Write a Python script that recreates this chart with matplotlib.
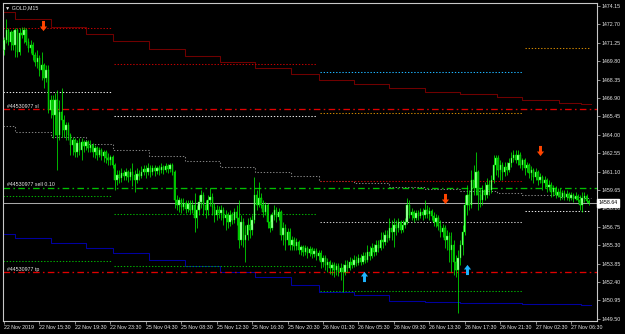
"""GOLD M15 chart (MetaTrader style) redrawn with matplotlib."""

import matplotlib
matplotlib.use('Agg')
import matplotlib.pyplot as plt
import numpy as np
from matplotlib.path import Path

plt.rcParams['font.family'] = ['Liberation Sans', 'DejaVu Sans']

SYMBOL = 'GOLD,M15'
ORDER_ID = '#44530977'

# candles, one per 15 minutes; each bar opens where the previous closed
FIRST_OPEN = 1470.68
CLOSES = [
    1471.47, 1472.26, 1471.31, 1472.10, 1471.08, 1472.26, 1470.52, 1472.02, 1471.86, 1472.26,
    1471.31, 1470.84, 1471.08, 1470.29, 1469.73, 1470.05, 1469.11, 1469.50, 1468.47, 1469.11,
    1465.95, 1466.74, 1465.56, 1466.74, 1463.98, 1465.79, 1465.17, 1464.38, 1464.77, 1463.98,
    1463.20, 1463.59, 1462.64, 1463.35, 1462.80, 1463.43, 1463.12, 1463.43, 1462.96, 1463.20,
    1462.64, 1462.96, 1462.41, 1462.80, 1462.33, 1462.64, 1462.17, 1462.01, 1462.25, 1461.62,
    1460.44, 1460.83, 1460.60, 1460.99, 1460.75, 1461.07, 1460.68, 1461.07, 1460.83, 1460.44,
    1460.91, 1460.75, 1461.07, 1461.31, 1461.07, 1461.39, 1461.07, 1461.39, 1461.15, 1461.39,
    1461.23, 1461.46, 1461.23, 1461.54, 1461.31, 1461.62, 1461.07, 1458.86, 1458.47, 1458.86,
    1458.31, 1458.62, 1458.15, 1458.54, 1458.07, 1458.47, 1457.44, 1458.07, 1458.70, 1459.26,
    1458.47, 1458.07, 1458.86, 1459.10, 1458.31, 1457.68, 1458.07, 1457.84, 1458.07, 1457.44,
    1457.68, 1457.13, 1457.68, 1457.29, 1457.92, 1457.44, 1455.71, 1457.13, 1455.71, 1456.10,
    1456.89, 1456.50, 1457.29, 1459.26, 1458.47, 1459.02, 1458.47, 1457.92, 1458.47, 1457.13,
    1456.66, 1457.68, 1458.07, 1457.52, 1457.92, 1456.10, 1456.66, 1455.71, 1456.34, 1455.32,
    1455.71, 1455.24, 1455.55, 1454.92, 1455.16, 1454.76, 1455.08, 1454.68, 1455.00, 1454.60,
    1454.84, 1454.45, 1454.68, 1453.97, 1454.29, 1453.74, 1453.97, 1453.50, 1453.74, 1453.35,
    1453.66, 1453.19, 1453.50, 1453.19, 1453.74, 1453.50, 1453.97, 1453.74, 1454.13, 1453.90,
    1454.29, 1453.97, 1454.45, 1454.13, 1454.76, 1454.45, 1455.08, 1454.76, 1455.32, 1455.08,
    1455.71, 1455.55, 1456.10, 1455.87, 1456.66, 1456.34, 1456.89, 1456.66, 1457.13, 1456.50,
    1456.89, 1457.13, 1458.47, 1457.68, 1457.92, 1457.44, 1457.84, 1457.60, 1457.92, 1457.68,
    1458.07, 1457.76, 1458.00, 1457.60, 1457.13, 1457.44, 1456.81, 1456.34, 1456.66, 1455.71,
    1456.03, 1454.92, 1455.32, 1453.97, 1453.35, 1454.29, 1455.32, 1456.34, 1458.47, 1459.26,
    1458.47, 1460.44, 1459.81, 1461.07, 1459.26, 1458.86, 1459.65, 1459.26, 1460.05, 1459.65,
    1460.44, 1461.62, 1462.17, 1461.23, 1461.62, 1461.07, 1461.46, 1461.23, 1461.78, 1462.17,
    1462.41, 1462.01, 1462.41, 1461.62, 1462.01, 1461.39, 1461.62, 1460.99, 1461.23, 1460.68,
    1461.07, 1460.44, 1460.68, 1460.20, 1460.44, 1459.89, 1460.05, 1459.50, 1459.81, 1459.26,
    1459.50, 1459.10, 1459.42, 1459.10, 1459.34, 1459.02, 1459.26, 1458.94, 1459.18, 1458.86,
    1458.47, 1459.02, 1459.18, 1458.78, 1458.64,
]
HIGHS = [
    1471.71, 1473.13, 1472.42, 1472.26, 1472.26, 1472.42, 1472.42, 1472.42, 1472.50, 1472.50,
    1472.42, 1471.63, 1471.47, 1471.31, 1470.52, 1470.68, 1470.29, 1470.52, 1469.66, 1469.50,
    1469.50, 1467.14, 1467.14, 1467.29, 1467.53, 1466.74, 1467.69, 1465.56, 1465.01, 1465.01,
    1464.14, 1463.83, 1463.75, 1463.59, 1463.75, 1463.75, 1463.59, 1463.59, 1463.59, 1463.59,
    1463.35, 1463.20, 1463.12, 1463.04, 1462.96, 1462.80, 1462.80, 1462.57, 1462.41, 1462.41,
    1461.78, 1461.23, 1461.23, 1461.39, 1461.23, 1461.39, 1461.23, 1461.39, 1461.78, 1461.23,
    1461.39, 1461.23, 1461.54, 1461.62, 1461.62, 1461.78, 1461.62, 1461.62, 1461.62, 1461.54,
    1461.62, 1461.78, 1461.62, 1461.78, 1461.70, 1461.78, 1461.78, 1461.23, 1459.26, 1459.10,
    1459.02, 1459.02, 1458.86, 1458.86, 1458.86, 1458.86, 1459.42, 1458.47, 1459.26, 1459.65,
    1459.50, 1458.86, 1459.26, 1459.81, 1459.42, 1458.62, 1458.47, 1458.39, 1458.47, 1458.31,
    1458.07, 1457.92, 1458.07, 1457.92, 1458.23, 1458.47, 1458.86, 1457.68, 1457.44, 1456.89,
    1457.44, 1457.52, 1457.68, 1460.67, 1459.65, 1460.28, 1459.42, 1458.86, 1458.70, 1458.62,
    1457.68, 1457.92, 1458.47, 1458.31, 1458.23, 1458.07, 1457.13, 1456.97, 1456.66, 1456.66,
    1456.03, 1455.95, 1455.87, 1455.71, 1455.32, 1455.32, 1455.32, 1455.24, 1455.24, 1455.16,
    1455.08, 1455.08, 1454.92, 1454.92, 1454.53, 1454.53, 1454.29, 1454.13, 1453.97, 1453.97,
    1453.90, 1453.90, 1453.90, 1453.82, 1454.13, 1454.13, 1454.37, 1454.29, 1454.53, 1454.45,
    1454.60, 1454.60, 1454.76, 1454.76, 1455.32, 1455.24, 1455.47, 1455.40, 1455.71, 1455.71,
    1456.34, 1456.34, 1456.50, 1456.50, 1457.44, 1457.29, 1457.44, 1457.29, 1457.44, 1457.29,
    1457.29, 1457.44, 1459.02, 1458.86, 1458.23, 1458.07, 1458.07, 1458.07, 1458.23, 1458.23,
    1458.86, 1458.47, 1458.31, 1458.15, 1457.92, 1457.76, 1457.68, 1457.29, 1456.97, 1456.89,
    1456.50, 1456.34, 1456.34, 1455.71, 1454.53, 1454.92, 1455.71, 1456.89, 1459.26, 1460.05,
    1459.65, 1461.23, 1461.62, 1462.64, 1461.23, 1459.81, 1460.05, 1460.28, 1460.60, 1460.44,
    1460.83, 1462.41, 1462.41, 1462.41, 1462.01, 1461.86, 1461.86, 1461.86, 1462.17, 1462.64,
    1462.80, 1462.80, 1462.80, 1462.64, 1462.17, 1462.17, 1461.86, 1461.78, 1461.54, 1461.39,
    1461.39, 1461.23, 1460.99, 1460.83, 1460.75, 1460.60, 1460.44, 1460.28, 1460.05, 1459.97,
    1459.81, 1459.81, 1459.65, 1459.65, 1459.65, 1459.50, 1459.50, 1459.42, 1459.50, 1459.34,
    1459.26, 1459.50, 1459.50, 1459.34, 1458.94,
]
LOWS = [
    1470.29, 1471.24, 1471.08, 1470.68, 1470.68, 1470.13, 1470.13, 1470.29, 1471.63, 1471.24,
    1471.08, 1470.52, 1470.45, 1469.89, 1469.42, 1469.26, 1468.63, 1468.32, 1467.69, 1468.16,
    1465.72, 1465.33, 1463.75, 1463.98, 1461.23, 1463.59, 1463.83, 1463.83, 1463.59, 1463.59,
    1462.41, 1462.41, 1462.25, 1462.25, 1462.41, 1462.01, 1462.64, 1462.80, 1462.64, 1462.64,
    1462.25, 1462.17, 1462.01, 1462.25, 1462.01, 1461.86, 1461.78, 1461.62, 1461.62, 1461.39,
    1459.65, 1460.05, 1460.20, 1460.28, 1460.44, 1460.44, 1460.28, 1460.44, 1459.97, 1459.50,
    1460.20, 1460.44, 1460.60, 1460.83, 1460.60, 1460.83, 1460.68, 1460.83, 1460.75, 1460.91,
    1460.83, 1460.99, 1460.91, 1461.07, 1460.99, 1461.07, 1460.83, 1458.23, 1458.07, 1457.92,
    1457.84, 1458.07, 1457.84, 1457.92, 1457.76, 1457.84, 1456.34, 1456.66, 1457.68, 1458.23,
    1457.68, 1457.44, 1457.68, 1458.39, 1457.68, 1457.13, 1457.29, 1457.44, 1457.29, 1456.89,
    1456.50, 1456.66, 1456.81, 1456.97, 1457.05, 1456.89, 1455.08, 1455.32, 1455.16, 1453.97,
    1455.71, 1455.87, 1456.10, 1457.05, 1458.07, 1458.31, 1458.23, 1457.52, 1457.68, 1456.66,
    1456.34, 1456.50, 1457.29, 1457.13, 1457.29, 1455.71, 1455.32, 1454.92, 1455.32, 1454.92,
    1454.92, 1454.92, 1454.92, 1454.60, 1454.53, 1454.45, 1454.53, 1454.29, 1454.45, 1454.29,
    1454.37, 1454.13, 1454.13, 1453.50, 1453.58, 1453.35, 1453.19, 1453.03, 1452.95, 1452.80,
    1452.95, 1452.87, 1452.56, 1451.61, 1452.95, 1453.19, 1453.35, 1453.50, 1453.58, 1453.66,
    1453.74, 1453.74, 1453.82, 1453.90, 1453.97, 1454.13, 1454.29, 1454.45, 1454.53, 1454.76,
    1454.92, 1455.08, 1455.32, 1455.55, 1455.71, 1455.71, 1455.16, 1456.10, 1456.34, 1456.26,
    1456.34, 1456.66, 1456.97, 1457.44, 1457.29, 1457.13, 1457.29, 1457.29, 1457.44, 1457.29,
    1457.44, 1457.44, 1457.29, 1457.29, 1456.81, 1456.73, 1456.50, 1455.95, 1455.95, 1455.08,
    1454.92, 1453.97, 1453.19, 1452.95, 1452.80, 1449.96, 1453.74, 1454.53, 1456.10, 1457.68,
    1458.07, 1458.23, 1459.26, 1459.26, 1458.07, 1458.31, 1458.47, 1458.86, 1459.02, 1459.26,
    1459.42, 1460.20, 1460.83, 1460.68, 1460.44, 1460.44, 1460.75, 1460.83, 1461.07, 1461.46,
    1461.86, 1461.78, 1461.62, 1461.39, 1461.23, 1460.83, 1461.07, 1460.60, 1460.44, 1460.20,
    1460.44, 1460.05, 1460.20, 1459.65, 1459.81, 1459.50, 1459.65, 1459.10, 1459.18, 1459.02,
    1459.10, 1458.86, 1458.94, 1458.86, 1458.86, 1458.78, 1458.86, 1458.70, 1458.86, 1458.70,
    1458.07, 1457.92, 1458.70, 1458.62, 1458.47,
]

# H4 channel: bar where each step starts, and the three band levels
STEP_STARTS = [-0.5, 4.9, 21, 37, 49.2, 65.5, 81.5, 97.5, 113.5, 129.5,
               142, 158, 174, 190, 206, 222.5, 234, 250.5, 260.5]
STEP_END = 265
UPPER_BAND = [1473.68, 1473.10, 1472.52, 1471.92, 1471.37, 1470.79, 1470.19, 1469.71,
              1469.24, 1468.77, 1468.29, 1467.98, 1467.66, 1467.35, 1467.19, 1466.96,
              1466.74, 1466.51, 1466.40]
MIDDLE_BAND = [1464.72, 1464.22, 1463.83, 1463.25, 1462.78, 1462.33, 1461.96, 1461.49,
               1461.05, 1460.73, 1460.38, 1460.18, 1459.91, 1459.73, 1459.57, 1459.39,
               1459.23, 1459.10, 1459.02]
LOWER_BAND = [1456.16, 1455.85, 1455.45, 1455.06, 1454.66, 1454.13, 1453.66, 1453.21,
              1452.77, 1452.14, 1451.59, 1451.35, 1450.88, 1450.82, 1450.77, 1450.72,
              1450.69, 1450.64, 1450.61]

# daily levels (dotted), one segment per trading day
DAY_STARTS = [-0.5, 49.7, 142.7, 235.2]
DAY_ENDS = [48.8, 141.3, 234.3, 264.6]
LEVEL_DAY = [0, 0, 0, 0, 1, 1, 1, 1, 2, 2, 2, 2, 2, 3, 3]
LEVEL_PRICE = [1472.42, 1467.37, 1459.16, 1454.06,
               1469.62, 1465.46, 1457.76, 1453.66,
               1468.93, 1465.72, 1460.34, 1457.15, 1451.72,
               1470.82, 1457.99]
LEVEL_COLOR = ['#C00000', '#E6E6E6', '#00B000', '#00B000',
               '#C00000', '#E6E6E6', '#00B000', '#00B000',
               '#1EB4FF', '#CC8400', '#C00000', '#C8C8C8', '#00B000',
               '#CC8400', '#E6E6E6']

# open order
SL_PRICE = 1466.01
ENTRY_PRICE = 1459.81
TP_PRICE = 1453.16
BID_PRICE = 1458.64

# signal arrows
SELL_BARS = [17.4, 198.9, 242.1]
SELL_PRICES = [1472.54, 1458.94, 1462.75]
BUY_BARS = [162.5, 209.0]
BUY_PRICES = [1452.87, 1453.39]

PRICE_TICKS = [1449.50, 1450.95, 1452.40, 1453.85, 1455.30, 1456.75, 1458.20, 1459.65,
               1461.10, 1462.55, 1464.00, 1465.45, 1466.90, 1468.35, 1469.80, 1471.25,
               1472.70, 1474.15]
TIME_TICKS = [0, 16, 32, 48, 64, 80, 96, 112, 128, 144, 160, 176, 192, 208, 224, 240, 256]
TIME_LABELS = ['22 Nov 2019', '22 Nov 15:30', '22 Nov 19:30', '22 Nov 23:30',
               '25 Nov 04:30', '25 Nov 08:30', '25 Nov 12:30', '25 Nov 16:30',
               '25 Nov 20:30', '26 Nov 01:30', '26 Nov 05:30', '26 Nov 09:30',
               '26 Nov 13:30', '26 Nov 17:30', '26 Nov 21:30', '27 Nov 02:30',
               '27 Nov 06:30']

FONT_SIZE = 3.8
TEXT_COLOR = '#E8E8E8'
DOT = (0, (1.3, 1.7))
DASH_DOT = (0, (5, 2.5, 1.2, 2.5))


def arrow_marker(pointing_down: bool) -> Path:
    """Thick arrow like the MetaTrader wingdings arrows."""
    verts = [(-0.24, 0.9), (0.24, 0.9), (0.24, 0.0), (0.58, 0.0),
             (0.0, -0.75), (-0.58, 0.0), (-0.24, 0.0), (-0.24, 0.9)]
    if not pointing_down:
        verts = [(vx, -vy) for vx, vy in verts]
    codes = [Path.MOVETO] + [Path.LINETO] * 6 + [Path.CLOSEPOLY]
    return Path(verts, codes)


def draw_candles(ax) -> None:
    closes = np.array(CLOSES)
    opens = np.array([FIRST_OPEN] + CLOSES[:-1])
    bars = np.arange(len(closes))
    ax.vlines(bars, LOWS, HIGHS, color='#00FF00', linewidth=0.5, zorder=4)
    bull = closes >= opens
    ax.bar(bars[bull], (closes - opens)[bull], bottom=opens[bull], width=0.62,
           color='#B4FFB4', edgecolor='#00FF00', linewidth=0.3, zorder=5)
    ax.bar(bars[~bull], (closes - opens)[~bull], bottom=opens[~bull], width=0.62,
           color='#00A000', edgecolor='#00FF00', linewidth=0.3, zorder=5)


def draw_levels(ax) -> None:
    xs = STEP_STARTS + [STEP_END]
    for band, color, style in [(UPPER_BAND, '#700000', '-'),
                               (MIDDLE_BAND, '#808080', DOT),
                               (LOWER_BAND, '#0000A0', '-')]:
        ax.plot(xs, band + [band[-1]], drawstyle='steps-post', color=color,
                linewidth=0.75, linestyle=style, zorder=2)

    for day, price, color in zip(LEVEL_DAY, LEVEL_PRICE, LEVEL_COLOR):
        ax.hlines(price, DAY_STARTS[day], DAY_ENDS[day], color=color,
                  linewidth=0.75, linestyles=DOT, zorder=2)

    ax.axhline(SL_PRICE, color='#E00000', linewidth=0.95, linestyle=DASH_DOT, zorder=2)
    ax.axhline(ENTRY_PRICE, color='#00C000', linewidth=0.95, linestyle=DASH_DOT, zorder=2)
    ax.axhline(TP_PRICE, color='#E00000', linewidth=0.95, linestyle=DASH_DOT, zorder=2)
    ax.axhline(BID_PRICE, color='#A8A8A8', linewidth=0.75, zorder=2)

    label_tf = ax.get_yaxis_transform()
    for price, text in [(SL_PRICE, f'{ORDER_ID} sl'),
                        (ENTRY_PRICE, f'{ORDER_ID} sell 0.10'),
                        (TP_PRICE, f'{ORDER_ID} tp')]:
        ax.text(0.006, price + 0.06, text, transform=label_tf, color=TEXT_COLOR,
                fontsize=FONT_SIZE, ha='left', va='bottom', zorder=6)


def main() -> None:
    fig = plt.figure(figsize=(6.25, 3.34), dpi=100, facecolor='black')
    ax = fig.add_axes([3 / 625, 13 / 334, 594 / 625, 318 / 334], facecolor='black')

    draw_levels(ax)
    draw_candles(ax)

    ax.plot(SELL_BARS, SELL_PRICES, linestyle='none', marker=arrow_marker(True),
            markersize=8, color='#FF4500', markeredgewidth=0, zorder=7)
    ax.plot(BUY_BARS, BUY_PRICES, linestyle='none', marker=arrow_marker(False),
            markersize=8, color='#1EB4FF', markeredgewidth=0, zorder=7)

    ax.set_xlim(-0.45, 267.7)
    ax.set_ylim(1449.33, 1474.39)

    ax.yaxis.tick_right()
    ax.set_yticks(PRICE_TICKS)
    ax.set_yticklabels([f'{p:.2f}' for p in PRICE_TICKS])
    ax.set_xticks(TIME_TICKS)
    ax.set_xticklabels(TIME_LABELS)
    for label in ax.get_xticklabels():
        label.set_horizontalalignment('left')
    ax.tick_params(axis='both', colors='#C8C8C8', labelcolor=TEXT_COLOR,
                   labelsize=FONT_SIZE, length=2.2, width=0.5, direction='out')
    ax.tick_params(axis='y', pad=1.2)
    ax.tick_params(axis='x', pad=0.8)
    for spine in ax.spines.values():
        spine.set_color('#C8C8C8')
        spine.set_linewidth(0.8)

    ax.text(0.004, 0.993, '\u25bc ' + SYMBOL, transform=ax.transAxes, color=TEXT_COLOR,
            fontsize=FONT_SIZE, ha='left', va='top', zorder=8)

    ax.annotate(f'{BID_PRICE:.2f}', xy=(1, BID_PRICE), xycoords=('axes fraction', 'data'),
                xytext=(1.2, 0), textcoords='offset points', ha='left', va='center',
                fontsize=FONT_SIZE, color='black', annotation_clip=False, zorder=9,
                bbox=dict(boxstyle='square,pad=0.25', facecolor='white', edgecolor='white'))

    fig.savefig('out.png', dpi=100, facecolor='black')
    plt.close(fig)


if __name__ == '__main__':
    main()
